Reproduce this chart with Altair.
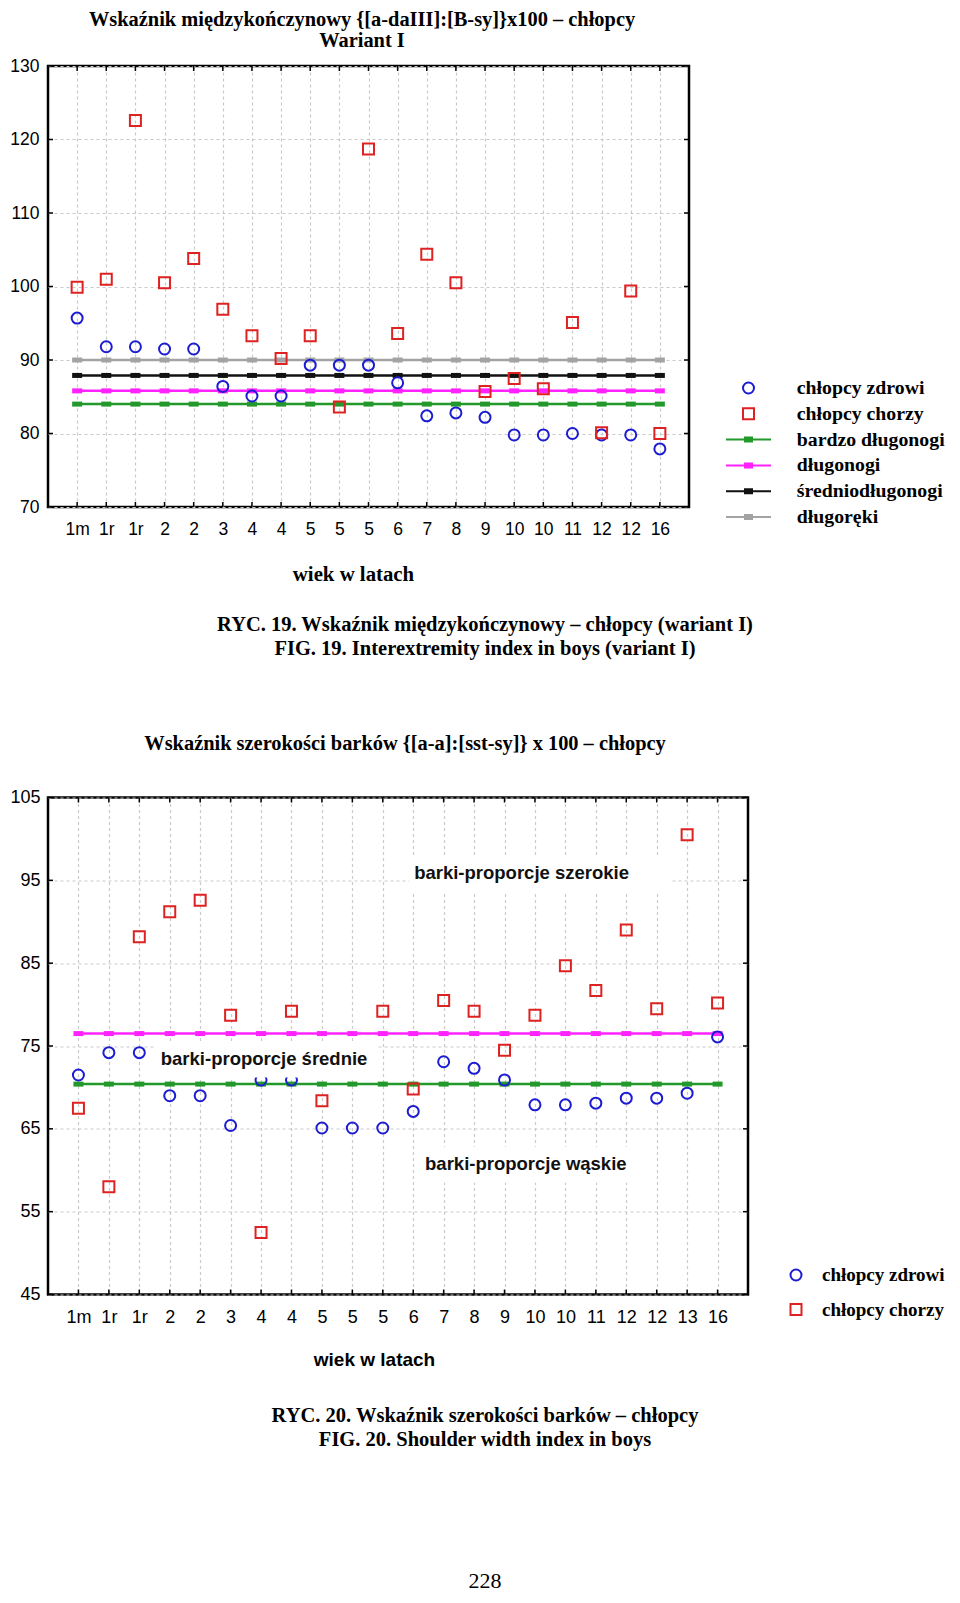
import json
import altair as alt
import pandas as pd

# ---------------- Figure 19 data ----------------
cats1 = ["1m", "1r", "1r", "2", "2", "3", "4", "4", "5", "5", "5", "6", "7", "8", "9",
         "10", "10", "11", "12", "12", "16"]
healthy1 = [95.7, 91.8, 91.8, 91.5, 91.5, 86.4, 85.1, 85.1, 89.3, 89.3, 89.3, 86.9, 82.4,
            82.8, 82.2, 79.8, 79.8, 80.0, 79.8, 79.8, 77.9]
sick1 = [99.9, 101.0, 122.6, 100.5, 103.8, 96.9, 93.3, 90.2, 93.3, 83.6, 118.7, 93.6, 104.4,
         100.5, 85.7, 87.5, 86.1, 95.1, 80.1, 99.4, 80.0]
refnames1 = ["bardzo długonogi", "długonogi", "średniodługonogi", "długoręki"]
refvals1 = [84.0, 85.8, 87.9, 90.0]
yticks1 = [70, 80, 90, 100, 110, 120, 130]
title1 = ["Wskaźnik międzykończynowy {[a-daIII]:[B-sy]}x100 – chłopcy", "Wariant I"]
caption1 = ["RYC. 19. Wskaźnik międzykończynowy – chłopcy (wariant I)",
            "FIG. 19. Interextremity index in boys (variant I)"]

# ---------------- Figure 20 data ----------------
cats2 = ["1m", "1r", "1r", "2", "2", "3", "4", "4", "5", "5", "5", "6", "7", "8", "9",
         "10", "10", "11", "12", "12", "13", "16"]
healthy2 = [71.5, 74.2, 74.2, 69.0, 69.0, 65.4, 70.9, 70.9, 65.1, 65.1, 65.1, 67.1, 73.1,
            72.3, 70.9, 67.9, 67.9, 68.1, 68.7, 68.7, 69.3, 76.1]
sick2 = [67.5, 58.0, 88.2, 91.2, 92.6, 78.7, 52.5, 79.2, 68.4, None, 79.2, 69.8, 80.5,
         79.2, 74.5, 78.7, 84.7, 81.7, 89.0, 79.5, 100.5, 80.2]
refnames2 = ["granica wąskie/średnie", "granica średnie/szerokie"]
refvals2 = [70.4, 76.5]
yticks2 = [45, 55, 65, 75, 85, 95, 105]
ann_labels2 = ["barki-proporcje szerokie", "barki-proporcje średnie", "barki-proporcje wąskie"]
ann_x2 = [14.56, 6.1, 14.7]
ann_y2 = [95.9, 73.4, 60.7]
ann_box_x0 = [10.87, 2.48, 11.16]
ann_box_x1 = [19.5, 9.83, 18.45]
ann_box_y0 = [93.65, 71.2, 58.5]
ann_box_y1 = [98.0, 75.5, 62.85]
title2 = ["Wskaźnik szerokości barków {[a-a]:[sst-sy]} x 100 – chłopcy"]
caption2 = ["RYC. 20. Wskaźnik szerokości barków – chłopcy",
            "FIG. 20. Shoulder width index in boys"]
page_no = ["228"]

groups = ["chłopcy zdrowi", "chłopcy chorzy"]

# ---------------- styles ----------------
BLUE, RED = "#1c1cd2", "#de2222"
GREEN, MAGENTA, BLACK, GRAY = "#23992b", "#ff22ff", "#111111", "#a3a3a3"
CIRCLE = "M0.55,0A0.55,0.55 0 1,1 -0.55,0A0.55,0.55 0 1,1 0.55,0Z"
SQUARE = "M-0.55,-0.55H0.55V0.55H-0.55Z"
LINESYM = "M-2.25,0H2.25M-0.45,-0.2H0.45M-0.45,0H0.45M-0.45,0.2H0.45"
MARKER = "M-1,-0.5H1V0.5H-1Z"
SERIF = "Liberation Serif"
SANS = "Liberation Sans"


def panel(cats, healthy, sick, refnames, refvals, refcolors, yticks, W, H,
          label_size, label_pad, xlabel_pad, xtitle_font, xtitle_x, xtitle_y, legend,
          legend_names):
    n = len(cats)
    col_scale = alt.Scale(domain=legend_names,
                          range=[BLUE, RED] + (refcolors if len(legend_names) > 2 else []))
    shp_scale = alt.Scale(domain=legend_names,
                          range=[CIRCLE, SQUARE] + [LINESYM] * (len(legend_names) - 2))
    ref_scale = alt.Scale(domain=refnames, range=refcolors)

    x_enc = alt.X(
        "idx:Q",
        scale=alt.Scale(domain=[-1, n], nice=False, zero=False),
        axis=alt.Axis(values=list(range(n)), labelExpr=f"{json.dumps(cats)}[datum.value]",
                      title="wiek w latach", grid=True, gridDash=[3, 3], gridColor="#c9c9c9",
                      gridWidth=1.2, ticks=False, domain=False, labelPadding=xlabel_pad,
                      labelFlush=False, labelOverlap=False, labelFont=SANS,
                      labelFontSize=label_size, labelColor="black",
                      titleFont=xtitle_font[0], titleFontWeight="bold",
                      titleFontSize=xtitle_font[1], titleColor="black",
                      titleX=xtitle_x, titleY=xtitle_y, titleBaseline="middle",
                      titleAlign="center"),
    )
    y_enc = alt.Y(
        "value:Q",
        scale=alt.Scale(domain=[yticks[0], yticks[-1]], nice=False, zero=False),
        axis=alt.Axis(values=yticks, title=None, grid=True, gridDash=[3, 3],
                      gridColor="#c9c9c9", gridWidth=1.2, ticks=False, domain=False,
                      labelPadding=label_pad, labelFlush=False, labelFont=SANS,
                      labelFontSize=label_size, labelColor="black"),
    )

    pts = pd.DataFrame({
        "idx": list(range(n)) * 2,
        "grupa": [groups[0]] * n + [groups[1]] * n,
        "value": healthy + sick,
    }).dropna()
    lines = pd.DataFrame([
        {"idx": i, "seria": nm, "value": v}
        for nm, v in zip(refnames, refvals) for i in range(n)
    ])

    leg = alt.Legend(title=None, orient="none", legendX=legend["x"], legendY=legend["y"],
                     symbolSize=400, symbolStrokeWidth=2, labelFont=SERIF,
                     labelFontWeight="bold", labelFontSize=legend["font"], labelColor="black",
                     labelOffset=legend["offset"], rowPadding=legend["row"], padding=0,
                     labelLimit=400)

    line_layer = alt.Chart(lines).mark_line(strokeWidth=2.5).encode(
        x=x_enc, y=y_enc, stroke=alt.Stroke("seria:N", scale=ref_scale, legend=None))
    mark_layer = alt.Chart(lines).mark_point(filled=True, shape=MARKER, size=100,
                                             strokeWidth=0, opacity=1).encode(
        x=x_enc, y=y_enc, fill=alt.Fill("seria:N", scale=ref_scale, legend=None))
    pt_layer = alt.Chart(pts).mark_point(filled=False, size=400, strokeWidth=2,
                                         opacity=1).encode(
        x=x_enc, y=y_enc,
        color=alt.Color("grupa:N", scale=col_scale, legend=leg),
        shape=alt.Shape("grupa:N", scale=shp_scale, legend=leg),
    )

    xt = pd.DataFrame({"idx": list(range(n))})
    yt = pd.DataFrame({"value": yticks})
    tick_top = alt.Chart(xt).mark_rule(color="black", strokeWidth=1.5).encode(
        x=x_enc, y=alt.value(0), y2=alt.value(5))
    tick_bot = alt.Chart(xt).mark_rule(color="black", strokeWidth=1.5).encode(
        x=x_enc, y=alt.value(H), y2=alt.value(H - 5))
    tick_left = alt.Chart(yt).mark_rule(color="black", strokeWidth=1.5).encode(
        y=y_enc, x=alt.value(0), x2=alt.value(5))
    tick_right = alt.Chart(yt).mark_rule(color="black", strokeWidth=1.5).encode(
        y=y_enc, x=alt.value(W), x2=alt.value(W - 5))

    return ([line_layer, mark_layer, pt_layer], [tick_top, tick_bot, tick_left, tick_right],
            x_enc, y_enc)


def texts(lines, x, ys, size=20.5, weight="bold"):
    df = pd.DataFrame({"t": lines, "k": list(range(len(lines)))})
    out = []
    for k, y in enumerate(ys):
        out.append(alt.Chart(df).transform_filter(f"datum.k == {k}").mark_text(
            font=SERIF, fontWeight=weight, fontSize=size, color="black", align="center",
            baseline="middle").encode(text="t:N", x=alt.value(x), y=alt.value(y)))
    return out


# ---------- Figure 19 ----------
W1, H1 = 641, 441
data1, ticks1, _, _ = panel(
    cats1, healthy1, sick1, refnames1, refvals1, [GREEN, MAGENTA, BLACK, GRAY], yticks1,
    W1, H1, 17.5, 9, 13, (SERIF, 20.8), 305, 67,
    {"x": 689.5, "y": 311, "offset": 37.3, "row": 4.8, "font": 19.8}, groups + refnames1)

ttl1 = texts(title1, 314, [-46, -25], size=20.4)
cap1 = texts(caption1, 437, [H1 + 117.5, H1 + 141.5])

fig1 = alt.layer(*data1, *ticks1, *ttl1, *cap1).properties(width=W1, height=H1)

# ---------- Figure 20 ----------
W2, H2 = 700, 497
data2, ticks2, x2, y2 = panel(
    cats2, healthy2, sick2, refnames2, refvals2, [GREEN, MAGENTA], yticks2,
    W2, H2, 18, 8, 14, (SANS, 19), 326, 65,
    {"x": 737, "y": 466.5, "offset": 15, "row": 13.5, "font": 19}, groups)

boxes_df = pd.DataFrame({"idx": ann_box_x0, "idx2": ann_box_x1,
                         "value": ann_box_y0, "value2": ann_box_y1})
text_df = pd.DataFrame({"label": ann_labels2, "idx": ann_x2, "value": ann_y2})
boxes = alt.Chart(boxes_df).mark_rect(color="white").encode(
    x=x2, x2="idx2:Q", y=y2, y2="value2:Q")
ann_text = alt.Chart(text_df).mark_text(font=SANS, fontWeight="bold", fontSize=18.5,
                                        color="#111111", align="center",
                                        baseline="middle").encode(
    x=x2, y=y2, text="label:N")

ttl2 = texts(title2, 357, [-54], size=20.4)
cap2 = texts(caption2, 437, [H2 + 121, H2 + 145])
page = texts(page_no, 437, [H2 + 286], size=22, weight="normal")

fig2 = alt.layer(*data2, boxes, ann_text, *ticks2, *ttl2, *cap2, *page).properties(
    width=W2, height=H2)

chart = alt.vconcat(fig1, fig2, spacing=290.5, bounds="flush").resolve_scale(
    color="independent", shape="independent", stroke="independent", fill="independent",
    x="independent", y="independent"
).properties(padding=0, background="white").configure_view(
    stroke="black", strokeWidth=2.5
)

chart.save("out.html", embed_options={"renderer": "svg", "actions": False})
